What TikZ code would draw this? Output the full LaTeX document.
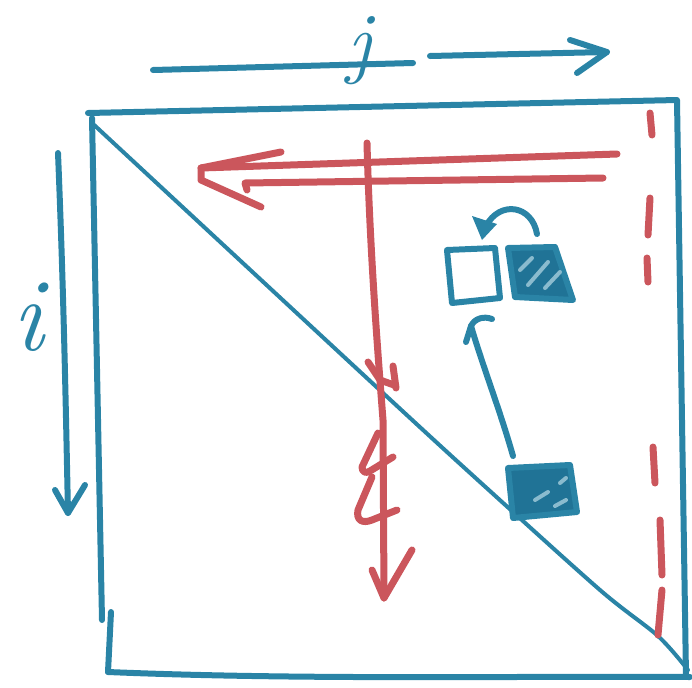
\documentclass[tikz,border=0pt]{standalone}
\usepackage{fontspec}
\setmainfont{Latin Modern Roman}
\definecolor{mblue}{RGB}{42,132,166}
\definecolor{dblue}{RGB}{32,115,150}
\definecolor{mred}{RGB}{203,86,92}
\tikzset{
  pen/.style={line width=3pt, line cap=round, line join=round},
  bluepen/.style={pen, draw=mblue},
  thinblue/.style={line width=2pt, line cap=round, draw=mblue},
  redpen/.style={line width=3.5pt, line cap=round, line join=round, draw=mred},
  hatch/.style={line width=2pt, line cap=round, draw=mblue!55!white},
  letter/.style={text=mblue, inner sep=0pt, anchor=base}
}
\begin{document}
\begin{tikzpicture}[x=0.5pt,y=-0.5pt]
\useasboundingbox (0,0) rectangle (692,687);
% coordinates
\coordinate (TL) at (92,118);
\coordinate (TR) at (677,100);
\coordinate (BR) at (686,676);
\coordinate (BL) at (108,672);
% square
\draw[bluepen] (88,113) -- (TR) -- (BR);
\draw[bluepen] (BL) .. controls (300,680) and (500,676) .. (690,677);
\draw[bluepen] (TL) -- (102,620);
\draw[bluepen] (111,612) -- (BL);
% diagonal
\draw[thinblue] plot[smooth] coordinates {(92,123) (383,393) (480,482) (600,590) (658,636) (688,670)};
% j arrow
\coordinate (j1) at (153,70); \coordinate (j2) at (413,63);
\coordinate (j3) at (430,56); \coordinate (j4) at (607,52);
\draw[bluepen] (j1) -- (j2);
\draw[bluepen] (j3) -- (j4);
\draw[bluepen] (570,40) -- (j4) -- (577,73);
\node[letter, font=\fontsize{40}{40}\selectfont\itshape] (jl) at (359,68) {j};
% i arrow
\coordinate (i1) at (58,153); \coordinate (i2) at (68,513);
\draw[bluepen] (i1) .. controls (64,300) and (66,420) .. (i2);
\draw[bluepen] (55,490) -- (i2) -- (85,485);
\node[letter, font=\fontsize{52}{52}\selectfont\itshape] (il) at (28,350) {i};
% red dashed line
\draw[redpen] (650,113) -- (652,135);
\draw[redpen] (650,198) -- (648,235);
\draw[redpen] (647,258) -- (648,282);
\draw[redpen] (653,447) -- (655,483);
\draw[redpen] (660,520) -- (662,575);
\draw[redpen] (662,590) -- (658,635);
% red double arrow
\coordinate (r1) at (617,154); \coordinate (rt1) at (201,168);
\coordinate (r2) at (603,178); \coordinate (rt2) at (201,180);
\draw[redpen] (r1) -- (rt1);
\draw[redpen] (r2) -- (245,183) -- (247,190);
\draw[redpen] (281,152) -- (rt1) -- (rt2) -- (261,207);
% red vertical arrow
\coordinate (v1) at (367,143); \coordinate (v2) at (384,598);
\draw[redpen] (v1) .. controls (370,260) and (380,380) .. (383,420) -- (v2);
\draw[redpen] (372,570) -- (v2) -- (412,550);
\draw[redpen] (368,362) -- (380,380) -- (394,385);
\draw[redpen] (393,366) -- (396,388);
\draw[redpen] (378,433) -- (362,467) .. controls (362,472) and (366,474) .. (370,471) -- (393,457);
\draw[redpen] (372,477) -- (358,510) .. controls (356,520) and (362,524) .. (372,520) -- (397,510);
% boxes
\coordinate (A1) at (447,250); \coordinate (A2) at (495,248);
\coordinate (A3) at (500,298); \coordinate (A4) at (452,303);
\draw[bluepen] (A1) -- (A2) -- (A3) -- (A4) -- cycle;
\filldraw[bluepen, fill=dblue] (508,248) -- (555,247) -- (573,300) -- (515,297) -- cycle;
\draw[hatch] (520,270) -- (532,258);
\draw[hatch] (528,285) -- (548,262);
\draw[hatch] (545,288) -- (560,272);
\filldraw[bluepen, fill=dblue] (508,468) -- (570,465) -- (577,512) -- (513,518) -- cycle;
\draw[hatch] (560,483) -- (566,478);
\draw[hatch] (535,500) -- (548,492);
\draw[hatch] (555,506) -- (566,500);
% curved arrow over boxes
\draw[bluepen] (537,234) .. controls (532,205) and (500,200) .. (486,226);
\fill[mblue] (472,216) -- (497,224) -- (482,240) -- cycle;
% arrow from lower box to left box
\coordinate (b1) at (513,456); \coordinate (b2) at (471,326);
\draw[bluepen] (b1) .. controls (500,410) and (484,370) .. (b2);
\draw[bluepen] (466,342) -- (b2) .. controls (475,318) and (484,316) .. (492,319);
\end{tikzpicture}
\end{document}
